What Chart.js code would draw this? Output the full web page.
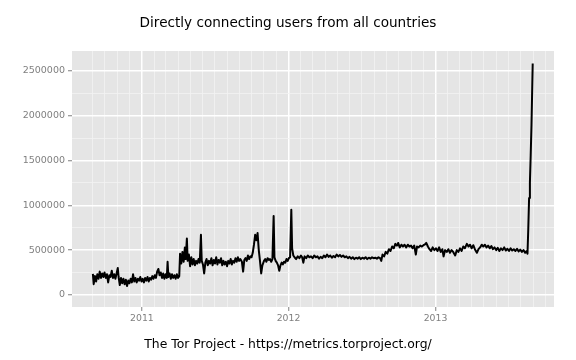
<!DOCTYPE html>
<html><head><meta charset="utf-8">
<script src="https://cdn.jsdelivr.net/npm/chart.js@4"></script>
<style>html,body{margin:0;padding:0;background:#fff}canvas{display:block}</style>
</head><body>
<canvas id="c" width="576" height="360"></canvas>
<script>
const chartTitle = 'Directly connecting users from all countries';
const chartCaption = 'The Tor Project - https://metrics.torproject.org/';

const dates = [
 '2010-09-01','2010-09-03','2010-09-06','2010-09-09','2010-09-12','2010-09-15','2010-09-18','2010-09-21','2010-09-24','2010-09-27','2010-09-30',
 '2010-10-03','2010-10-06','2010-10-09','2010-10-12','2010-10-15','2010-10-18','2010-10-21','2010-10-24','2010-10-27','2010-10-30',
 '2010-11-02','2010-11-04','2010-11-07','2010-11-10','2010-11-13','2010-11-16','2010-11-19','2010-11-22','2010-11-25','2010-11-28',
 '2010-12-01','2010-12-04','2010-12-07','2010-12-10','2010-12-13','2010-12-16','2010-12-19','2010-12-22','2010-12-25','2010-12-28','2010-12-31',
 '2011-01-03','2011-01-06','2011-01-09','2011-01-12','2011-01-15','2011-01-18','2011-01-21','2011-01-24','2011-01-27','2011-01-30',
 '2011-02-02','2011-02-05','2011-02-08','2011-02-11','2011-02-14','2011-02-17','2011-02-20','2011-02-23','2011-02-26',
 '2011-03-01','2011-03-04','2011-03-06','2011-03-08','2011-03-11','2011-03-14','2011-03-17','2011-03-20','2011-03-23','2011-03-26','2011-03-29',
 '2011-04-01','2011-04-04','2011-04-06','2011-04-09','2011-04-12','2011-04-15','2011-04-18','2011-04-20','2011-04-23','2011-04-25','2011-04-28',
 '2011-05-01','2011-05-04','2011-05-07','2011-05-10','2011-05-13','2011-05-16','2011-05-19','2011-05-22','2011-05-25','2011-05-28','2011-05-30',
 '2011-06-02','2011-06-05','2011-06-08','2011-06-11','2011-06-14','2011-06-17','2011-06-20','2011-06-23','2011-06-26','2011-06-29',
 '2011-07-02','2011-07-05','2011-07-08','2011-07-11','2011-07-14','2011-07-17','2011-07-20','2011-07-23','2011-07-26','2011-07-29',
 '2011-08-01','2011-08-04','2011-08-07','2011-08-10','2011-08-13','2011-08-16','2011-08-19','2011-08-22','2011-08-25','2011-08-28','2011-08-31',
 '2011-09-03','2011-09-07','2011-09-10','2011-09-13','2011-09-16','2011-09-19','2011-09-22','2011-09-25','2011-09-28',
 '2011-10-01','2011-10-04','2011-10-07','2011-10-10','2011-10-13','2011-10-16','2011-10-19','2011-10-22','2011-10-25','2011-10-28',
 '2011-11-01','2011-11-04','2011-11-07','2011-11-10','2011-11-13','2011-11-16','2011-11-19','2011-11-22','2011-11-25','2011-11-27','2011-11-30',
 '2011-12-03','2011-12-06','2011-12-09','2011-12-12','2011-12-15','2011-12-18','2011-12-21','2011-12-24','2011-12-27','2011-12-30',
 '2012-01-02','2012-01-05','2012-01-08','2012-01-10','2012-01-13','2012-01-16','2012-01-20','2012-01-24','2012-01-28',
 '2012-02-01','2012-02-04','2012-02-07','2012-02-10','2012-02-14','2012-02-18','2012-02-22','2012-02-26',
 '2012-03-01','2012-03-05','2012-03-09','2012-03-13','2012-03-17','2012-03-21','2012-03-25','2012-03-29',
 '2012-04-02','2012-04-06','2012-04-10','2012-04-14','2012-04-18','2012-04-22','2012-04-26','2012-04-30',
 '2012-05-04','2012-05-08','2012-05-12','2012-05-16','2012-05-20','2012-05-24','2012-05-28',
 '2012-06-01','2012-06-05','2012-06-09','2012-06-13','2012-06-17','2012-06-21','2012-06-25','2012-06-29',
 '2012-07-03','2012-07-07','2012-07-11','2012-07-15','2012-07-19','2012-07-23','2012-07-27','2012-07-31',
 '2012-08-04','2012-08-08','2012-08-12','2012-08-16','2012-08-19','2012-08-22','2012-08-26','2012-08-30',
 '2012-09-03','2012-09-07','2012-09-11','2012-09-15','2012-09-19','2012-09-23','2012-09-27','2012-09-30',
 '2012-10-04','2012-10-08','2012-10-12','2012-10-16','2012-10-20','2012-10-24','2012-10-28',
 '2012-11-01','2012-11-05','2012-11-09','2012-11-13','2012-11-16','2012-11-20','2012-11-24','2012-11-28',
 '2012-12-02','2012-12-06','2012-12-09','2012-12-13','2012-12-17','2012-12-21','2012-12-25','2012-12-29',
 '2013-01-02','2013-01-06','2013-01-10','2013-01-14','2013-01-18','2013-01-21','2013-01-25','2013-01-29',
 '2013-02-02','2013-02-06','2013-02-10','2013-02-14','2013-02-19','2013-02-23','2013-02-27',
 '2013-03-03','2013-03-07','2013-03-11','2013-03-15','2013-03-20','2013-03-24','2013-03-28',
 '2013-04-01','2013-04-05','2013-04-09','2013-04-14','2013-04-18','2013-04-22','2013-04-26','2013-04-30',
 '2013-05-04','2013-05-08','2013-05-12','2013-05-16','2013-05-20','2013-05-24','2013-05-28',
 '2013-06-01','2013-06-05','2013-06-09','2013-06-13','2013-06-17','2013-06-21','2013-06-25','2013-06-29',
 '2013-07-03','2013-07-07','2013-07-11','2013-07-15','2013-07-19','2013-07-23','2013-07-27','2013-07-31',
 '2013-08-04','2013-08-08','2013-08-12','2013-08-16','2013-08-18','2013-08-20','2013-08-22','2013-08-24','2013-08-26','2013-08-28','2013-08-31'
];

const users = [
 235000,120000,210000,150000,230000,180000,260000,190000,240000,200000,250000,
 190000,230000,140000,220000,200000,270000,190000,230000,180000,240000,
 300000,200000,110000,190000,130000,180000,120000,170000,100000,160000,
 130000,180000,140000,230000,150000,190000,140000,180000,160000,200000,150000,
 180000,140000,190000,160000,200000,150000,190000,170000,210000,180000,
 220000,190000,260000,290000,220000,250000,190000,240000,180000,
 230000,190000,370000,200000,240000,180000,230000,190000,220000,180000,230000,
 190000,210000,460000,350000,480000,370000,530000,400000,630000,380000,450000,
 320000,420000,340000,400000,330000,380000,350000,400000,360000,670000,380000,
 340000,240000,360000,400000,330000,380000,350000,410000,330000,390000,
 350000,420000,340000,390000,360000,410000,330000,380000,340000,370000,
 320000,380000,350000,400000,340000,380000,360000,410000,370000,420000,380000,
 400000,370000,260000,390000,410000,380000,440000,400000,430000,
 420000,470000,560000,670000,610000,690000,500000,380000,240000,330000,
 380000,400000,370000,410000,390000,400000,370000,400000,880000,420000,380000,
 360000,330000,270000,330000,360000,340000,370000,360000,400000,380000,
 410000,420000,950000,520000,440000,420000,400000,430000,410000,
 440000,420000,360000,430000,410000,440000,420000,430000,
 410000,440000,420000,430000,405000,425000,410000,440000,
 420000,450000,425000,440000,415000,435000,420000,450000,
 430000,445000,425000,440000,420000,430000,410000,
 425000,405000,420000,400000,415000,405000,420000,400000,
 415000,405000,420000,400000,415000,405000,420000,410000,
 415000,405000,420000,410000,380000,450000,430000,480000,
 460000,510000,490000,540000,520000,570000,550000,580000,
 530000,560000,540000,560000,530000,560000,540000,
 550000,520000,550000,450000,540000,530000,550000,540000,
 555000,565000,580000,540000,510000,490000,530000,500000,
 520000,490000,530000,480000,510000,430000,500000,480000,
 510000,470000,500000,480000,440000,500000,480000,
 520000,490000,540000,520000,570000,540000,560000,
 520000,555000,510000,470000,510000,530000,560000,540000,
 560000,530000,550000,520000,545000,510000,530000,
 500000,525000,490000,520000,500000,530000,495000,515000,
 490000,520000,495000,510000,490000,515000,485000,505000,
 480000,500000,470000,490000,460000,740000,1080000,1250000,1560000,1900000,2580000
];

const yTicks = [0,250000,500000,750000,1000000,1250000,1500000,1750000,2000000,2250000,2500000];
const yLabelStep = 500000;
const yMin = -134000, yMax = 2720000;
const xMin = '2010-07-11', xMax = '2013-10-23';
const firstMonth = [2010, 8], lastMonth = [2013, 9]; // Sep 2010 .. Oct 2013 (0-based month)
const yearLabels = ['2011','2012','2013'];

const monthTicks = [];
for (let y = firstMonth[0], m = firstMonth[1]; y < lastMonth[0] || (y === lastMonth[0] && m <= lastMonth[1]); ) {
  monthTicks.push(Date.UTC(y, m, 1));
  m++; if (m > 11) { m = 0; y++; }
}
const isYear = v => { const d = new Date(v); return d.getUTCMonth() === 0 && yearLabels.includes(String(d.getUTCFullYear())); };
const isMajorY = v => v % yLabelStep === 0;

const panelBg = {
  id: 'panelBg',
  beforeDraw(chart) {
    const { ctx, chartArea: a } = chart;
    ctx.save();
    ctx.fillStyle = '#E5E5E5';
    ctx.fillRect(a.left, a.top, a.right - a.left, a.bottom - a.top);
    ctx.restore();
  }
};

const FONT = 'DejaVu Sans';
new Chart(document.getElementById('c'), {
  type: 'line',
  data: {
    datasets: [{
      data: dates.map((d, i) => ({ x: Date.parse(d), y: users[i] })),
      borderColor: '#000000',
      borderWidth: 2,
      pointRadius: 0,
      tension: 0,
      fill: false,
      borderJoinStyle: 'round'
    }]
  },
  options: {
    responsive: false,
    animation: false,
    devicePixelRatio: 1,
    layout: { padding: 0 },
    plugins: {
      legend: { display: false },
      tooltip: { enabled: false },
      title: {
        display: true, text: chartTitle, color: '#000000',
        font: { family: FONT, size: 13.6, weight: 'normal' },
        padding: { top: 15, bottom: 19.7 }
      },
      subtitle: {
        display: true, position: 'bottom', text: chartCaption, color: '#000000',
        font: { family: FONT, size: 12.4, weight: 'normal' },
        padding: { top: 5, bottom: 7.6 }
      }
    },
    scales: {
      x: {
        type: 'linear',
        min: Date.parse(xMin), max: Date.parse(xMax),
        afterBuildTicks(s) { s.ticks = monthTicks.map(v => ({ value: v })); },
        afterFit(s) { s.height = 25.56; },
        ticks: {
          autoSkip: false, maxRotation: 0, minRotation: 0, padding: 2,
          color: '#7F7F7F', font: { family: FONT, size: 9.3 },
          callback: v => isYear(v) ? String(new Date(v).getUTCFullYear()) : ''
        },
        grid: {
          color: c => (c.tick && isYear(c.tick.value)) ? '#FFFFFF' : '#F2F2F2',
          lineWidth: c => (c.tick && isYear(c.tick.value)) ? 1.5 : 0.8,
          tickColor: c => (c.tick && isYear(c.tick.value)) ? '#7F7F7F' : 'rgba(0,0,0,0)',
          tickLength: 4, tickWidth: 1
        },
        border: { display: false }
      },
      y: {
        type: 'linear',
        min: yMin, max: yMax,
        afterBuildTicks(s) { s.ticks = yTicks.map(v => ({ value: v })); },
        afterFit(s) { s.width = 72; },
        ticks: {
          autoSkip: false, padding: 3,
          color: '#7F7F7F', font: { family: FONT, size: 9.5 },
          callback: v => isMajorY(v) ? String(v) : ''
        },
        grid: {
          color: c => (c.tick && isMajorY(c.tick.value)) ? '#FFFFFF' : '#F2F2F2',
          lineWidth: c => (c.tick && isMajorY(c.tick.value)) ? 1.5 : 0.8,
          tickColor: c => (c.tick && isMajorY(c.tick.value)) ? '#7F7F7F' : 'rgba(0,0,0,0)',
          tickLength: 4, tickWidth: 1
        },
        border: { display: false }
      },
      rightMargin: {
        type: 'linear', position: 'right', min: 0, max: 1,
        afterFit(s) { s.width = 22; },
        ticks: { display: false },
        grid: { display: false, drawTicks: false },
        border: { display: false }
      }
    }
  },
  plugins: [panelBg]
});
</script>
</body></html>
